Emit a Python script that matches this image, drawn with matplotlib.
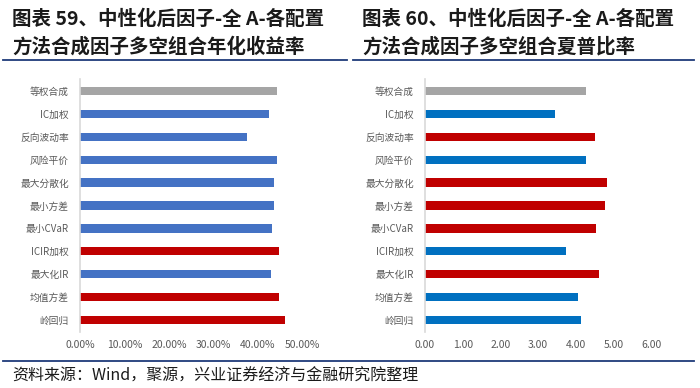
import matplotlib
matplotlib.use("Agg")
import matplotlib.pyplot as plt
from matplotlib.ticker import FuncFormatter

plt.rcParams['font.family'] = ['Noto Sans CJK SC', 'DejaVu Sans']

categories = ["等权合成", "IC加权", "反向波动率", "风险平价", "最大分散化", "最小方差",
              "最小CVaR", "ICIR加权", "最大化IR", "均值方差", "岭回归"]
annual_return = [44.4, 42.5, 37.6, 44.4, 43.8, 43.6, 43.3, 44.9, 43.0, 44.9, 46.2]
sharpe_ratio = [4.27, 3.44, 4.52, 4.27, 4.83, 4.79, 4.54, 3.75, 4.63, 4.06, 4.13]
left_groups = ["g", "b", "b", "b", "b", "b", "b", "r", "b", "r", "r"]
right_groups = ["g", "b", "r", "b", "r", "r", "r", "b", "r", "b", "b"]

titles = ["图表 59、中性化后因子-全 A-各配置\n方法合成因子多空组合年化收益率",
          "图表 60、中性化后因子-全 A-各配置\n方法合成因子多空组合夏普比率"]
source = "资料来源：Wind，聚源，兴业证券经济与金融研究院整理"

W, H = 700, 388
fig = plt.figure(figsize=(W / 100, H / 100), dpi=100)

def fx(px):
    return px / W

def fy(py):
    return 1 - py / H

left_colors = {"g": "#A5A5A5", "b": "#4472C4", "r": "#C00000"}
right_colors = {"g": "#A5A5A5", "b": "#0070C0", "r": "#C00000"}

ax_top, ax_bot = 79.5, 331.5
axes_specs = [
    (80, 302, annual_return, left_groups, left_colors, (0, 50), [0, 10, 20, 30, 40, 50],
     lambda v, p: f"{v:.2f}%"),
    (425, 651, sharpe_ratio, right_groups, right_colors, (0, 6), [0, 1, 2, 3, 4, 5, 6],
     lambda v, p: f"{v:.2f}"),
]

for x0, x1, vals, groups, cmap, xlim, xticks, fmt in axes_specs:
    ax = fig.add_axes([fx(x0), fy(ax_bot), fx(x1 - x0), (ax_bot - ax_top) / H])
    ypos = list(range(len(categories)))
    ax.barh(ypos, vals, height=0.36, color=[cmap[g] for g in groups])
    ax.set_ylim(len(categories) - 0.5, -0.5)
    ax.set_xlim(*xlim)
    ax.set_xticks(xticks)
    ax.xaxis.set_major_formatter(FuncFormatter(fmt))
    ax.set_yticks(ypos)
    ax.set_yticklabels(categories, fontsize=7, color="#595959")
    for s in ["top", "right", "bottom"]:
        ax.spines[s].set_visible(False)
    ax.spines["left"].set_color("#D9D9D9")
    ax.spines["left"].set_linewidth(1.2)
    ax.tick_params(axis="both", length=0)
    ax.tick_params(axis="x", labelsize=7.5, labelcolor="#595959", pad=6)
    ax.tick_params(axis="y", pad=8)

# titles
fig.text(fx(12), fy(33), titles[0], fontsize=14, fontweight="bold", color="#1a1a1a",
         ha="left", va="center", linespacing=1.45)
fig.text(fx(362), fy(33), titles[1], fontsize=14, fontweight="bold", color="#1a1a1a",
         ha="left", va="center", linespacing=1.45)

# lines
line_color = "#1F3A7A"
fig.add_artist(plt.Line2D([fx(3), fx(347)], [fy(60), fy(60)], color=line_color, lw=1.3))
fig.add_artist(plt.Line2D([fx(353), fx(694)], [fy(60), fy(60)], color=line_color, lw=1.3))
fig.add_artist(plt.Line2D([fx(3), fx(694)], [fy(361), fy(361)], color=line_color, lw=1.3))

fig.text(fx(12), fy(376), source, fontsize=11.5, color="#1a1a1a", ha="left", va="center",
         family=['Noto Sans CJK SC', 'DejaVu Sans'])

fig.savefig("out.png", dpi=100)
